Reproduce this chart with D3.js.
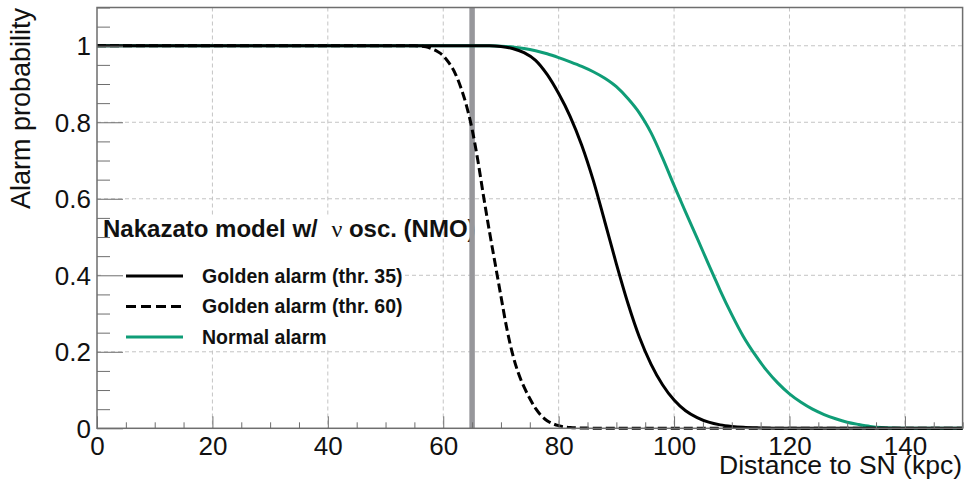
<!DOCTYPE html>
<html>
<head>
<meta charset="utf-8">
<script src="https://cdnjs.cloudflare.com/ajax/libs/d3/7.8.5/d3.min.js"></script>
<style>
	body { margin: 0; background: #fff; }
	svg text { font-family: "Liberation Sans", Arial, Helvetica, sans-serif; }
</style>
</head>
<body>
<svg id="chart" width="966" height="481"></svg>
<script>
// distance (kpc) / probability pairs
var golden35_x = [0, 68, 70, 72, 74, 76, 78, 80, 82, 84, 86, 88, 90, 92, 94, 96, 98, 100, 102, 104, 106, 108, 110, 112, 115, 120, 150];
var golden35_y = [1, 1, 0.998, 0.993, 0.982, 0.962, 0.925, 0.875, 0.815, 0.74, 0.648, 0.54, 0.43, 0.327, 0.238, 0.168, 0.114, 0.074, 0.046, 0.028, 0.016, 0.009, 0.005, 0.0025, 0.001, 0, 0];

var golden60_x = [0, 55, 56, 57, 58, 59, 60, 61, 62, 63, 64, 65, 66, 67, 68, 69, 70, 71, 72, 73, 74, 75, 76, 77, 78, 79, 80, 82, 85, 88, 150];
var golden60_y = [1, 1, 0.999, 0.997, 0.992, 0.985, 0.974, 0.955, 0.93, 0.893, 0.845, 0.782, 0.70, 0.605, 0.515, 0.43, 0.345, 0.262, 0.195, 0.145, 0.108, 0.078, 0.052, 0.033, 0.02, 0.012, 0.007, 0.002, 0.0005, 0, 0];

var normal_x = [0, 68, 70, 72, 74, 76, 78, 80, 82, 84, 86, 88, 90, 92, 94, 95, 96, 98, 100, 101, 102, 104, 106, 107, 108, 110, 112, 114, 116, 118, 120, 122, 124, 126, 128, 130, 132, 134, 136, 138, 140, 150];
var normal_y = [1, 1, 0.999, 0.997, 0.993, 0.987, 0.979, 0.969, 0.958, 0.946, 0.932, 0.915, 0.893, 0.862, 0.824, 0.80, 0.773, 0.707, 0.635, 0.60, 0.565, 0.497, 0.428, 0.394, 0.36, 0.297, 0.24, 0.193, 0.152, 0.118, 0.09, 0.068, 0.05, 0.036, 0.025, 0.016, 0.01, 0.005, 0.002, 0.0007, 0, 0];

var xTicks = [0, 20, 40, 60, 80, 100, 120, 140];
var yTicks = [0, 0.2, 0.4, 0.6, 0.8, 1];
var yTickLabels = ["0", "0.2", "0.4", "0.6", "0.8", "1"];
var snLine = 65;

var legendHeader = "Nakazato model w/ ";
var legendLabels = ["Golden alarm (thr. 35)", "Golden alarm (thr. 60)", "Normal alarm"];

var green = "#0f9d77",
	frameCol = "#6e6e6e",
	gridCol = "#c4c4c4";

var svg = d3.select("#chart");

var plotL = 97, plotR = 962.6, plotT = 7.5, plotB = 428.3;

var xscale = d3.scaleLinear().domain([0, 150]).range([plotL, plotR]);
var yscale = d3.scaleLinear().domain([0, 1.1]).range([plotB, plotT]);

function pairs(xs, ys) {
	return xs.map(function (d, i) { return {x: d, y: ys[i]}; });
}

//grid
var grid = svg.append("g");
grid.selectAll(".gx")
	.data(xTicks.slice(1))
	.enter().append("line")
	.attr("x1", function (d) { return xscale(d); })
	.attr("x2", function (d) { return xscale(d); })
	.attr("y1", plotT).attr("y2", plotB)
	.attr("stroke", gridCol).attr("stroke-dasharray", "4,3");
grid.selectAll(".gy")
	.data(yTicks.slice(1))
	.enter().append("line")
	.attr("x1", plotL).attr("x2", plotR)
	.attr("y1", function (d) { return yscale(d); })
	.attr("y2", function (d) { return yscale(d); })
	.attr("stroke", gridCol).attr("stroke-dasharray", "4,3");

//legend
var leg = svg.append("g");
leg.append("rect")
	.attr("x", 102).attr("y", 217)
	.attr("width", 303).attr("height", 131)
	.attr("fill", "#fff");
var head = leg.append("text")
	.attr("x", 103).attr("y", 237)
	.attr("font-size", "24px").attr("font-weight", "bold")
	.attr("fill", "#111");
head.append("tspan").text(legendHeader);
head.append("tspan").attr("font-weight", "normal").attr("font-family", "Liberation Serif, serif").attr("dx", 7).text("\u03bd");
head.append("tspan").text(" osc. (NMO)");

var legStyles = [
	{col: "#000", dash: null},
	{col: "#000", dash: "10,5"},
	{col: green, dash: null}
];
legendLabels.forEach(function (lab, i) {
	var ly = 276 + i * 30.5;
	leg.append("line")
		.attr("x1", 126).attr("x2", 183)
		.attr("y1", ly).attr("y2", ly)
		.attr("stroke", legStyles[i].col)
		.attr("stroke-width", 3)
		.attr("stroke-dasharray", legStyles[i].dash);
	leg.append("text")
		.attr("x", 202).attr("y", ly + 6.5)
		.attr("font-size", "19.5px").attr("font-weight", "bold")
		.attr("fill", "#111")
		.text(lab);
});

//SN line
svg.append("line")
	.attr("x1", xscale(snLine)).attr("x2", xscale(snLine))
	.attr("y1", plotT).attr("y2", plotB)
	.attr("stroke", "#97979b").attr("stroke-width", 5.5);

//curves
var line = d3.line()
	.x(function (d) { return xscale(d.x); })
	.y(function (d) { return yscale(d.y); })
	.curve(d3.curveMonotoneX);

svg.append("path")
	.datum(pairs(normal_x, normal_y))
	.attr("d", line)
	.attr("fill", "none").attr("stroke", green).attr("stroke-width", 3);
svg.append("path")
	.datum(pairs(golden35_x, golden35_y))
	.attr("d", line)
	.attr("fill", "none").attr("stroke", "#000").attr("stroke-width", 3);
svg.append("path")
	.datum(pairs(golden60_x, golden60_y))
	.attr("d", line)
	.attr("fill", "none").attr("stroke", "#000").attr("stroke-width", 3)
	.attr("stroke-dasharray", "9,4");

//axes
var xMinor = d3.range(0, 151, 5).filter(function (d) { return d % 20 !== 0; });
var yMinor = d3.range(0, 23).map(function (i) { return i * 0.05; })
	.filter(function (d) { return Math.abs(d * 5 - Math.round(d * 5)) > 1e-6; });

var xaxis = svg.append("g").attr("transform", "translate(0," + plotB + ")");
xaxis.call(d3.axisBottom(xscale).tickValues(xTicks).tickSizeInner(-12).tickSizeOuter(0).tickFormat(d3.format("d")));
xaxis.call(function (g) { g.select(".domain").remove(); });
xaxis.selectAll("line").attr("stroke", frameCol);
xaxis.selectAll("text")
	.attr("dy", null).attr("y", 27)
	.attr("font-size", "26px").attr("fill", "#111")
	.style("font-family", "Liberation Sans, Arial, sans-serif");
svg.append("g").attr("transform", "translate(0," + plotB + ")")
	.call(d3.axisBottom(xscale).tickValues(xMinor).tickSizeInner(-6).tickSizeOuter(0).tickFormat(""))
	.call(function (g) { g.select(".domain").remove(); g.selectAll("line").attr("stroke", frameCol); });

var yaxis = svg.append("g").attr("transform", "translate(" + plotL + ",0)");
yaxis.call(d3.axisLeft(yscale).tickValues(yTicks).tickSizeInner(-26).tickSizeOuter(0).tickPadding(6)
	.tickFormat(function (d, i) { return yTickLabels[i]; }));
yaxis.call(function (g) { g.select(".domain").remove(); });
yaxis.selectAll("line").attr("stroke", frameCol);
yaxis.selectAll("text")
	.attr("dy", "0.34em")
	.attr("font-size", "26px").attr("fill", "#111")
	.style("font-family", "Liberation Sans, Arial, sans-serif");
svg.append("g").attr("transform", "translate(" + plotL + ",0)")
	.call(d3.axisLeft(yscale).tickValues(yMinor).tickSizeInner(-13).tickSizeOuter(0).tickFormat(""))
	.call(function (g) { g.select(".domain").remove(); g.selectAll("line").attr("stroke", frameCol); });

//frame
svg.append("rect")
	.attr("x", plotL).attr("y", plotT)
	.attr("width", plotR - plotL).attr("height", plotB - plotT)
	.attr("fill", "none").attr("stroke", frameCol).attr("stroke-width", 1.5);

//titles
svg.append("text")
	.attr("x", 962).attr("y", 473.5)
	.attr("text-anchor", "end")
	.attr("font-size", "26.5px").attr("fill", "#111")
	.text("Distance to SN (kpc)");
svg.append("text")
	.attr("transform", "translate(30,8) rotate(-90)")
	.attr("text-anchor", "end")
	.attr("font-size", "27px").attr("fill", "#111")
	.text("Alarm probability");
</script>
</body>
</html>
